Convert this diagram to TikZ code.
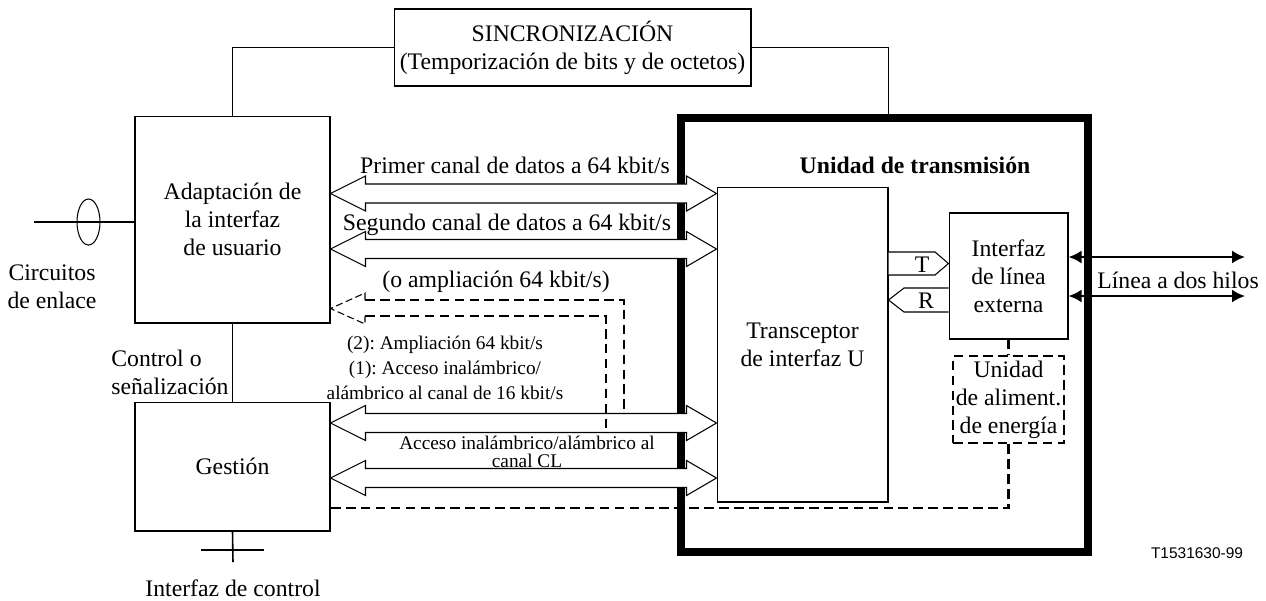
\documentclass[tikz,border=0pt]{standalone}
\usepackage{fontspec}
\setmainfont{Liberation Serif}
\newfontfamily\codefont{Liberation Sans}
\usetikzlibrary{arrows.meta,calc}
\frenchspacing

\begin{document}
\begin{tikzpicture}[x=0.02cm,y=-0.02cm,
  every node/.style={font=\fontsize{13.5}{16}\selectfont,inner sep=0pt,align=center},
  blk/.style={draw,line width=0.6pt},
  dashline/.style={line width=1.3pt,dash pattern=on 5.5pt off 3pt},
  fat/.style={draw,fill=white,line width=0.6pt},
  small/.style={font=\fontsize{11}{14.2}\selectfont},
  tip/.style={line width=1.2pt,{Latex[length=0.26cm,width=0.26cm]}-{Latex[length=0.26cm,width=0.26cm]}}]
\useasboundingbox (0,0) rectangle (1266,600);

% blocks
\node[blk,minimum width=7.14cm,minimum height=1.54cm] (sync) at (572.5,47.5)
  {SINCRONIZACIÓN\\(Temporización de bits y de octetos)};
\node[blk,minimum width=3.9cm,minimum height=4.14cm] (adapt) at (232.5,219.5)
  {Adaptación de\\la interfaz\\de usuario};
\node[blk,minimum width=3.9cm,minimum height=2.58cm] (gest) at (232.5,466.5) {Gestión};
\node[draw,line width=4.5pt,minimum width=8.14cm,minimum height=8.68cm] (unit) at (884.5,335) {};
\node[blk,minimum width=3.42cm,minimum height=6.3cm] (trx) at (802.5,344.5)
  {Transceptor\\de interfaz U};
\node[blk,minimum width=2.38cm,minimum height=2.52cm] (lif) at (1008.5,276)
  {Interfaz\\de línea\\externa};
\node[draw,dashline,minimum width=2.22cm,minimum height=1.74cm] (pwr) at (1008.5,399.5)
  {Unidad\\de aliment.\\de energía};

% synchronisation and control lines
\draw[line width=0.6pt] (sync.west) -| (adapt.north);
\draw[line width=0.6pt] (sync.east) -| (trx.east |- unit.north);
\draw[line width=0.9pt] (adapt.south) -- (gest.north);
\coordinate (ctlend) at (233,562);
\draw[line width=0.9pt] (gest.south) -- (ctlend);
\draw[line width=0.9pt] (201,550) -- (264,550);
\coordinate (circend) at (34,222);
\draw[line width=0.9pt] (circend) -- (adapt.west |- circend);
\draw[line width=0.6pt] (88.5,222) ellipse [x radius=11.5, y radius=23];

% data channels
\foreach \y/\src in {193.5/adapt,249/adapt,423/gest,478/gest}
  \draw[fat] (\src.east |- 0,\y) -- ++(35,-17.5) -- ++(0,8)
    -- ($(trx.west |- 0,\y)+(-30,-9.5)$) -- ++(0,-8) -- (trx.west |- 0,\y)
    -- ++(-30,17.5) -- ++(0,-8) -- ($(\src.east |- 0,\y)+(35,9.5)$) -- ++(0,8) -- cycle;

% T and R
\draw[fat] (trx.east |- 0,252) -- (935,252) -- (lif.west |- 0,263.5) -- (935,275) -- (trx.east |- 0,275);
\draw[fat] (lif.west |- 0,288) -- (904,288) -- (trx.east |- 0,300) -- (904,312) -- (lif.west |- 0,312);
\node (tlbl) at (922,265) {T};
\node (rlbl) at (926,301) {R};

% two-wire line
\foreach \y/\n in {257/wa,296/wb}{
  \coordinate (\n) at (1245,\y);
  \draw[tip] (lif.east |- \n) -- (\n);
}

% power feeding and extension (dashed)
\draw[dashline] (lif.south) -- (pwr.north);
\draw[dashline] (pwr.south) -- (pwr.south |- 0,508) -- (gest.east |- 0,508);
\draw[line width=0.6pt,dash pattern=on 4pt off 2pt] (365,300) -- (365,293)
  -- (adapt.east |- 0,308.5) -- (365,324) -- (365,316);
\draw[dashline] (365,300) -- (624,300) -- (624,413.5);
\draw[dashline] (365,316) -- (606,316) -- (606,432.5);

% labels
\node[font=\fontsize{13.5}{16}\selectfont\bfseries] (unitlbl) at (915,165) {Unidad de transmisión};
\node (ch1) at (515,165) {Primer canal de datos a 64 kbit/s};
\node (ch2) at (507,225) {Segundo canal de datos a 64 kbit/s};
\node (ext) at (496,282) {(o ampliación 64 kbit/s)};
\node[small] (wl) at (445,368) {(2): Ampliación 64 kbit/s\\(1): Acceso inalámbrico/\\alámbrico al canal de 16 kbit/s};
\node[font=\fontsize{11}{10.5}\selectfont] (cl) at (527,452) {Acceso inalámbrico/alámbrico al\\canal CL};
\node (circ) at (52,286.5) {Circuitos\\de enlace};
\node[anchor=west,align=left] (ctl) at (111,372.5) {Control o\\señalización};
\node (ictl) at (233,588) {Interfaz de control};
\node (twowire) at (1178,280) {Línea a dos hilos};
\node[font=\codefont\fontsize{8.8}{10}\selectfont] (code) at (1197,553) {T1531630-99};
\end{tikzpicture}
\end{document}
